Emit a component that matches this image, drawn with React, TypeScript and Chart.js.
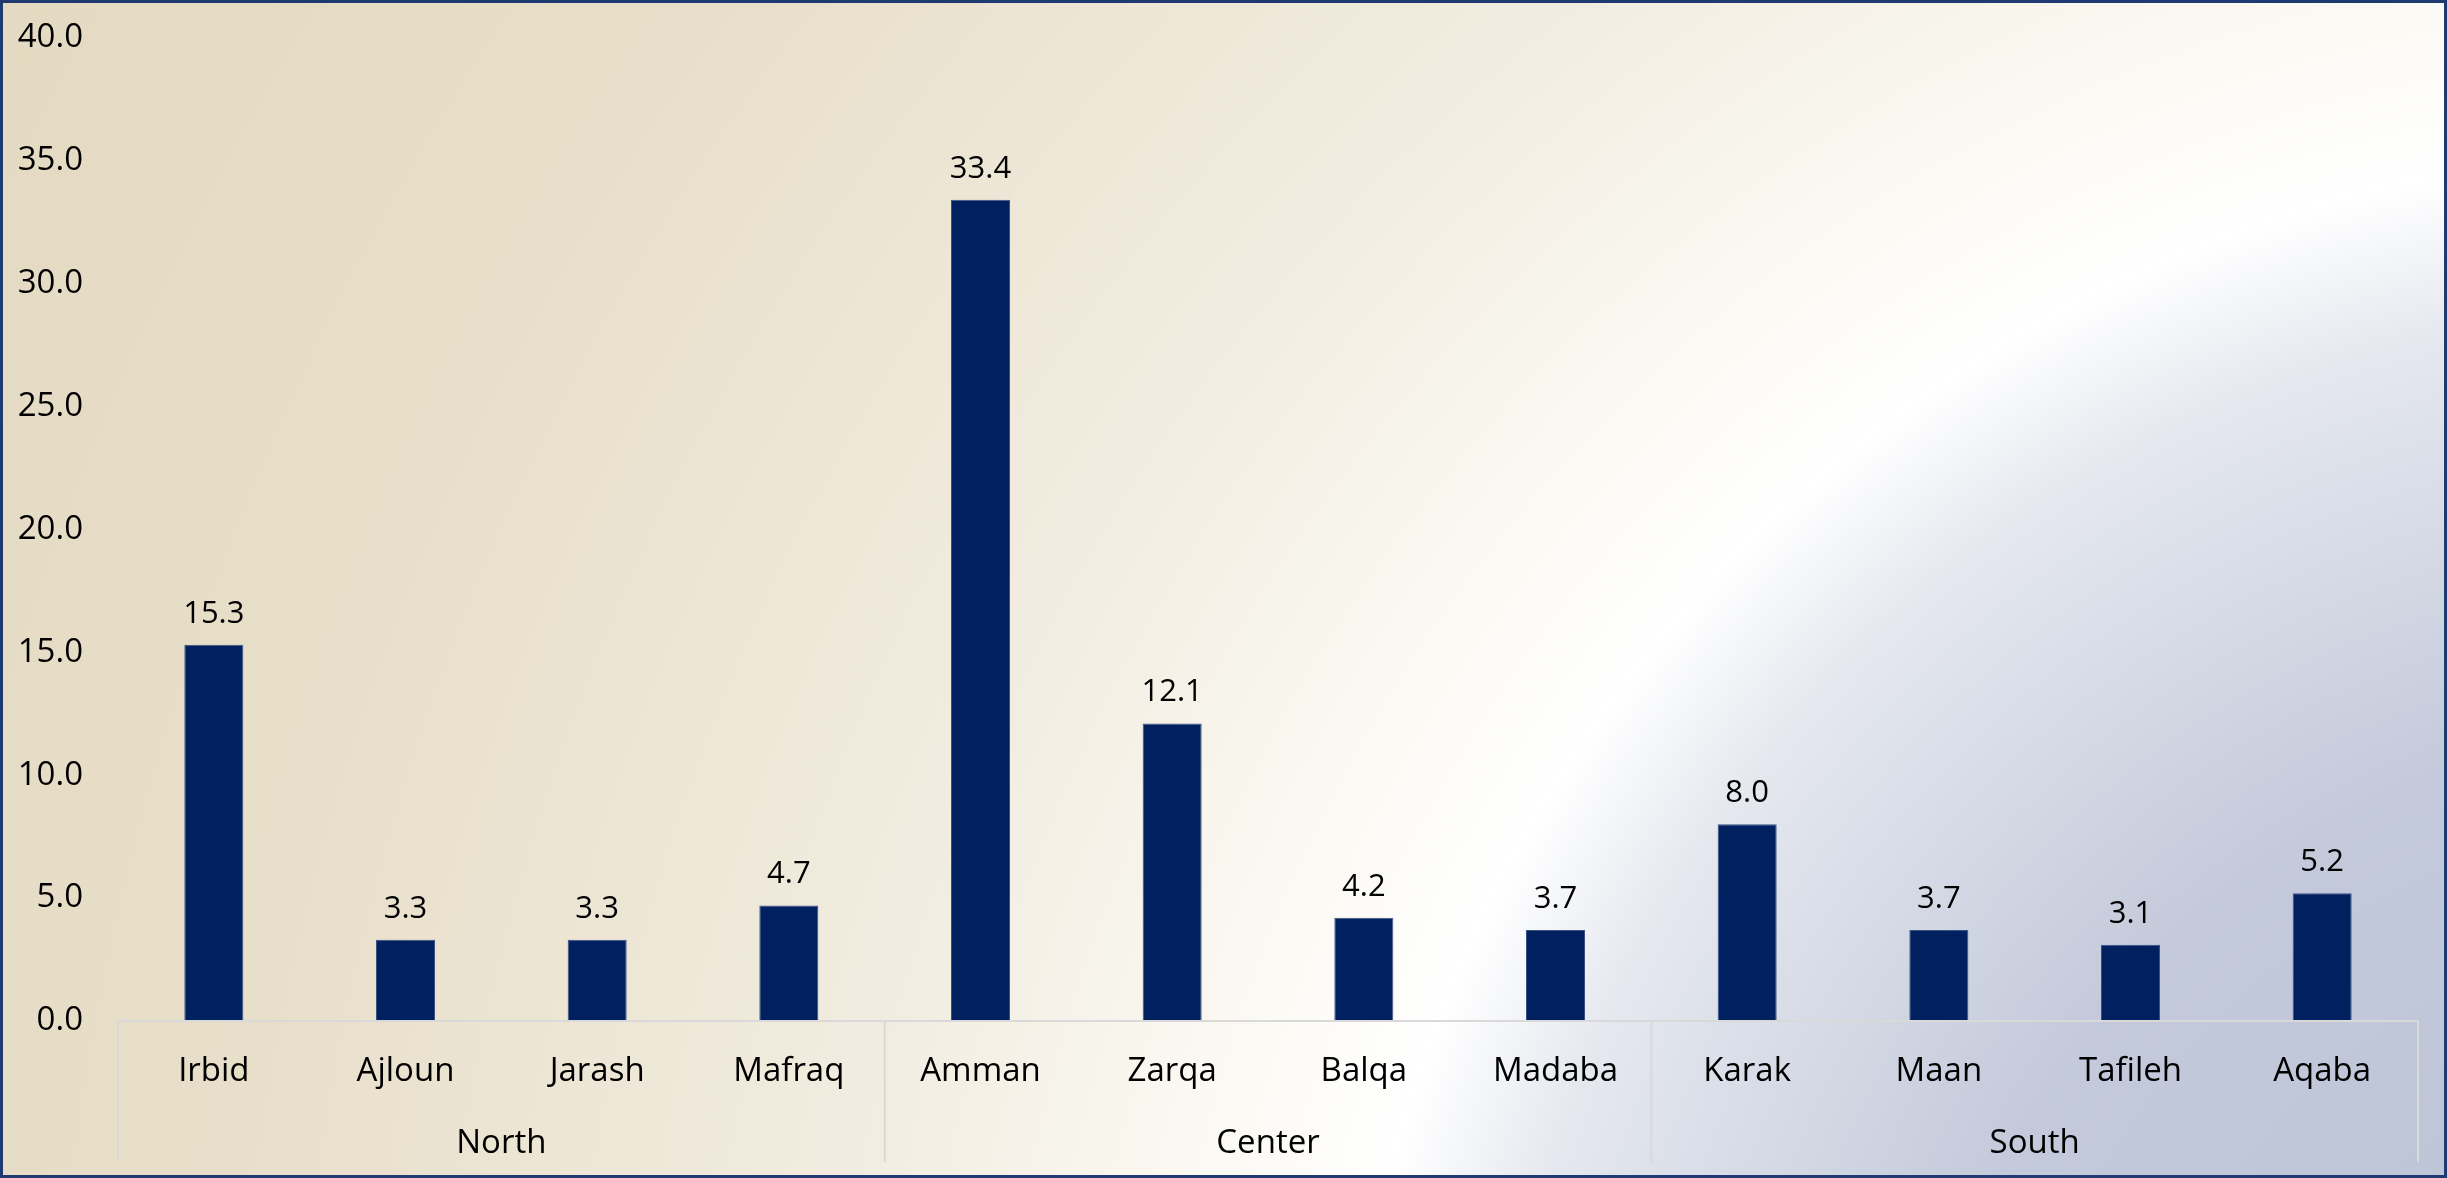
import React, { useEffect, useRef } from 'react';
import { Chart, registerables } from 'chart.js';

Chart.register(...registerables);

const categories = ['Irbid', 'Ajloun', 'Jarash', 'Mafraq', 'Amman', 'Zarqa', 'Balqa', 'Madaba', 'Karak', 'Maan', 'Tafileh', 'Aqaba'];
const values = [15.3, 3.3, 3.3, 4.7, 33.4, 12.1, 4.2, 3.7, 8.0, 3.7, 3.1, 5.2];
const groups = ['North', 'Center', 'South'];
const groupSizes = [4, 4, 4];
const yMin = 0;
const yMax = 40;
const yStep = 5;

const W = 2447;
const H = 1178;
const FONT = '"Open Sans", "Noto Sans", sans-serif';

const bgPlugin = {
  id: 'bgPlugin',
  beforeDraw(chart: any) {
    const ctx = chart.ctx;
    ctx.save();
    const cx = 2700, cy = 1500, R = 3100;
    const g = ctx.createRadialGradient(cx, cy, 0, cx, cy, R);
    g.addColorStop(0, '#B8C0D3');
    g.addColorStop(0.25, '#C4CADB');
    g.addColorStop(0.385, '#E5E8EF');
    g.addColorStop(0.435, '#FFFFFF');
    g.addColorStop(0.495, '#FBF9F3');
    g.addColorStop(0.6, '#F2EDE1');
    g.addColorStop(0.8, '#E8DFCA');
    g.addColorStop(1, '#E4DAC2');
    ctx.fillStyle = g;
    ctx.fillRect(0, 0, chart.width, chart.height);
    ctx.restore();
  },
  afterDatasetsDraw(chart: any) {
    const ctx = chart.ctx;
    const meta = chart.getDatasetMeta(0);
    ctx.save();
    ctx.font = `31px ${FONT}`;
    ctx.fillStyle = '#000000';
    ctx.textAlign = 'center';
    ctx.textBaseline = 'alphabetic';
    meta.data.forEach((bar: any, i: number) => {
      ctx.fillText(values[i].toFixed(1), bar.x, bar.y - 22);
    });
    ctx.restore();
  },
  afterDraw(chart: any) {
    const ctx = chart.ctx;
    const xs = chart.scales.x;
    const area = chart.chartArea;
    const n = categories.length;
    const step = n > 1 ? xs.getPixelForValue(1) - xs.getPixelForValue(0) : area.width;
    const edge = (i: number) => xs.getPixelForValue(0) - step / 2 + i * step;
    const bottom = area.bottom + 141;
    ctx.save();
    ctx.strokeStyle = '#D9D9D9';
    ctx.lineWidth = 2;
    ctx.beginPath();
    ctx.moveTo(edge(0), area.bottom);
    ctx.lineTo(edge(n), area.bottom);
    let acc = 0;
    const bounds = [0];
    groupSizes.forEach((s) => { acc += s; bounds.push(acc); });
    bounds.forEach((b) => {
      ctx.moveTo(edge(b), area.bottom);
      ctx.lineTo(edge(b), bottom);
    });
    ctx.stroke();

    ctx.font = `33px ${FONT}`;
    ctx.fillStyle = '#000000';
    ctx.textAlign = 'center';
    ctx.textBaseline = 'alphabetic';
    groups.forEach((g, gi) => {
      const x = (edge(bounds[gi]) + edge(bounds[gi + 1])) / 2;
      ctx.fillText(g, x, area.bottom + 132);
    });

    ctx.strokeStyle = '#1F3A70';
    ctx.lineWidth = 3;
    ctx.strokeRect(1.5, 1.5, chart.width - 3, chart.height - 3);
    ctx.restore();
  },
};

export default function App() {
  const ref = useRef<HTMLCanvasElement | null>(null);
  useEffect(() => {
    if (!ref.current) return;
    const chart = new Chart(ref.current, {
      type: 'bar',
      data: {
        labels: categories,
        datasets: [
          {
            data: values,
            backgroundColor: '#002060',
            borderColor: '#3A5282',
            borderWidth: 1,
            barPercentage: 0.616,
            categoryPercentage: 0.5,
          },
        ],
      },
      options: {
        responsive: false,
        animation: false,
        devicePixelRatio: 1,
        layout: { padding: { top: 37.5, right: 29, bottom: 0, left: 0 } },
        plugins: {
          legend: { display: false },
          tooltip: { enabled: false },
        },
        scales: {
          x: {
            grid: { display: false, drawTicks: false },
            border: { display: false },
            ticks: {
              color: '#000000',
              font: { family: FONT, size: 33 },
              padding: 31,
              maxRotation: 0,
              autoSkip: false,
            },
            afterFit(scale: any) {
              scale.height = 157;
              scale.paddingLeft = 0;
              scale.paddingRight = 0;
            },
          },
          y: {
            min: yMin,
            max: yMax,
            grid: { display: false, drawTicks: false },
            border: { display: false },
            ticks: {
              stepSize: yStep,
              color: '#000000',
              font: { family: FONT, size: 33 },
              padding: 35,
              callback: (v: any) => Number(v).toFixed(1),
            },
            afterFit(scale: any) {
              scale.width = 118;
              scale.paddingTop = 0;
              scale.paddingBottom = 0;
            },
          },
        },
      },
      plugins: [bgPlugin],
    });
    return () => chart.destroy();
  }, []);
  return (
    <div style={{ position: 'absolute', left: 0, top: 0, width: W, height: H }}>
      <canvas ref={ref} width={W} height={H} style={{ display: 'block', width: W, height: H }} />
    </div>
  );
}
